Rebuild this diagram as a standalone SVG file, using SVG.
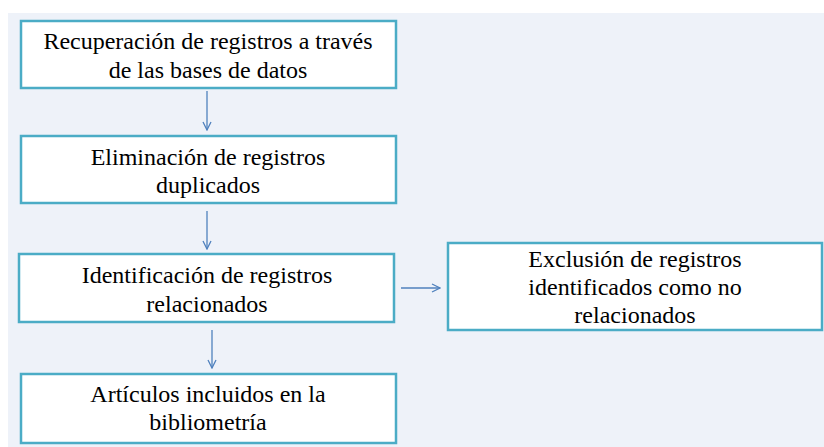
<svg xmlns="http://www.w3.org/2000/svg" width="824" height="447" viewBox="0 0 824 447">
<defs>
<style>
.box{fill:#ffffff;stroke:#4bacc6;stroke-width:2.5}
.c{stroke:#4f81bd;stroke-width:1.3;fill:none}
</style>
<marker id="ah" viewBox="0 0 10 10" refX="9" refY="5" markerWidth="10" markerHeight="10" markerUnits="userSpaceOnUse" orient="auto">
<path d="M1,1 L9,5 L1,9" fill="none" stroke="#4f81bd" stroke-width="1.3"/>
</marker>
</defs>
<rect x="0" y="0" width="824" height="447" fill="#ffffff"/>
<rect x="8" y="13" width="816" height="434" fill="#eef2f9"/>
<g id="connectors">
<line class="c" x1="207" y1="91" x2="207" y2="130" marker-end="url(#ah)"/>
<line class="c" x1="207" y1="211" x2="207" y2="249" marker-end="url(#ah)"/>
<line class="c" x1="212" y1="330" x2="212" y2="368" marker-end="url(#ah)"/>
<line class="c" x1="401" y1="288" x2="440" y2="288" marker-end="url(#ah)"/>
</g>
<g id="n1">
<rect class="box" x="21" y="21" width="375" height="67"/>
<text x="208" y="49" font-family="Liberation Serif, serif" font-size="24" text-anchor="middle" fill="#000">Recuperación de registros a través</text>
<text x="208" y="78" font-family="Liberation Serif, serif" font-size="24" text-anchor="middle" fill="#000">de las bases de datos</text>
</g>
<g id="n2">
<rect class="box" x="21" y="136" width="375" height="67"/>
<text x="208" y="165" font-family="Liberation Serif, serif" font-size="24" text-anchor="middle" fill="#000">Eliminación de registros</text>
<text x="208" y="193" font-family="Liberation Serif, serif" font-size="24" text-anchor="middle" fill="#000">duplicados</text>
</g>
<g id="n3">
<rect class="box" x="19" y="254" width="375" height="68"/>
<text x="207" y="283" font-family="Liberation Serif, serif" font-size="24" text-anchor="middle" fill="#000">Identificación de registros</text>
<text x="207" y="312" font-family="Liberation Serif, serif" font-size="24" text-anchor="middle" fill="#000">relacionados</text>
</g>
<g id="n4">
<rect class="box" x="21" y="374" width="375" height="69"/>
<text x="208" y="402" font-family="Liberation Serif, serif" font-size="24" text-anchor="middle" fill="#000">Artículos incluidos en la</text>
<text x="208" y="430" font-family="Liberation Serif, serif" font-size="24" text-anchor="middle" fill="#000">bibliometría</text>
</g>
<g id="n5">
<rect class="box" x="448" y="243" width="374" height="87"/>
<text x="635" y="267" font-family="Liberation Serif, serif" font-size="24" text-anchor="middle" fill="#000">Exclusión de registros</text>
<text x="635" y="295" font-family="Liberation Serif, serif" font-size="24" text-anchor="middle" fill="#000">identificados como no</text>
<text x="635" y="323" font-family="Liberation Serif, serif" font-size="24" text-anchor="middle" fill="#000">relacionados</text>
</g>
</svg>
